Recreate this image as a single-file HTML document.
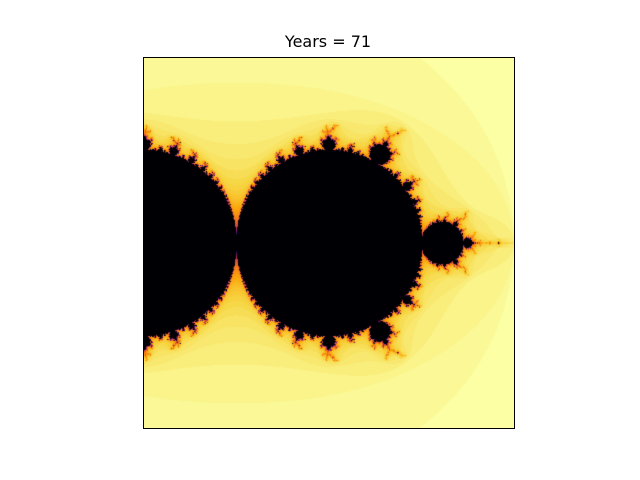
<!DOCTYPE html>
<html><head><meta charset="utf-8"><style>
html,body{margin:0;padding:0;background:#fff;width:640px;height:480px;overflow:hidden}
#title{position:absolute;top:32px;left:0;width:656px;text-align:center;font:16px "DejaVu Sans","Liberation Sans",sans-serif;color:#000}
#plot{position:absolute;left:143px;top:57px;width:370px;height:370px;border:1px solid #000}
canvas{display:block}
</style></head><body>
<div id="title">Years = 71</div>
<div id="plot"><canvas id="c" width="370" height="370"></canvas></div>
<script>
const maxIter = [71];
const reRange = [0, 4];
const imRange = [2, -2];
const stops = [[0,0,4],[22,11,57],[66,10,104],[106,23,110],[147,38,103],[188,55,84],[221,81,58],[243,120,25],[252,165,10],[246,215,70],[252,255,164]];
function cmap(t){t=Math.max(0,Math.min(1,t));const p=t*10,i=Math.min(9,Math.floor(p)),f=p-i,a=stops[i],b=stops[i+1];return[a[0]+(b[0]-a[0])*f,a[1]+(b[1]-a[1])*f,a[2]+(b[2]-a[2])*f];}
const cv=document.getElementById('c'),ctx=cv.getContext('2d'),W=370,H=370,img=ctx.createImageData(W,H),M=maxIter[0];
for(let y=0;y<H;y++){const li=imRange[0]+(imRange[1]-imRange[0])*(y+0.5)/H;
for(let x=0;x<W;x++){const lr=reRange[0]+(reRange[1]-reRange[0])*(x+0.5)/W;
const cr=lr/2-(lr*lr-li*li)/4, ci=li/2-(2*lr*li)/4;
let zr=cr,zi=ci,n=0;while(n<M&&zr*zr+zi*zi<=4){const t=zr*zr-zi*zi+cr;zi=2*zr*zi+ci;zr=t;n++;}
const u=n/M;const c=n>=M?cmap(0):cmap(1-u),k=(y*W+x)*4;img.data[k]=c[0];img.data[k+1]=c[1];img.data[k+2]=c[2];img.data[k+3]=255;}}
ctx.putImageData(img,0,0);
</script>
</body></html>
